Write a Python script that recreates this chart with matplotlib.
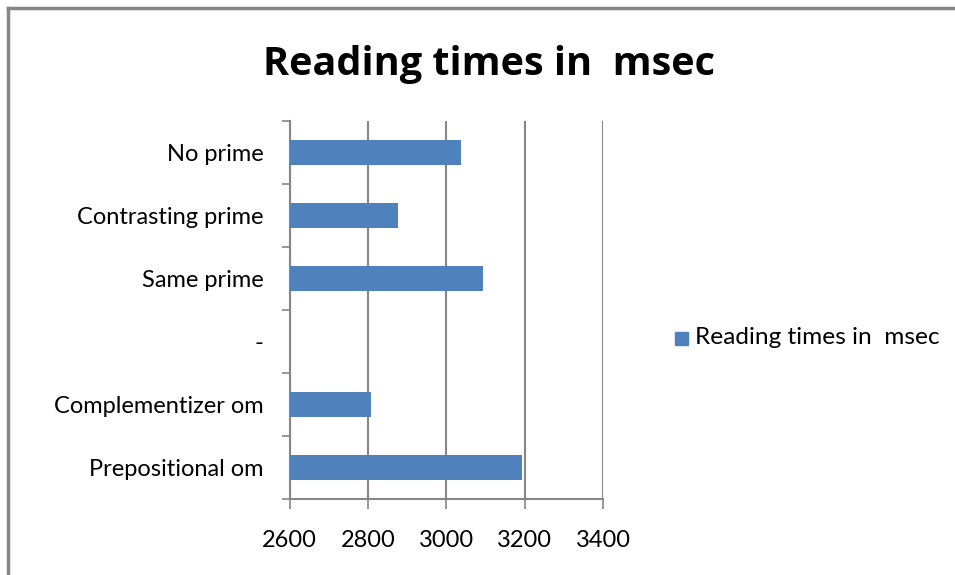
import numpy as np
import matplotlib
matplotlib.use("Agg")
import matplotlib.pyplot as plt
from matplotlib.lines import Line2D
from matplotlib.patches import Rectangle

plt.rcParams['font.family'] = ['Lato', 'DejaVu Sans']

categories = ["No prime", "Contrasting prime", "Same prime", "-",
              "Complementizer om", "Prepositional om"]
reading_ms = [3037, 2876, 3093, np.nan, 2807, 3193]
series_name = "Reading times in  msec"
x_ticks = [2600, 2800, 3000, 3200, 3400]

bar_color = "#4F81BD"
grid_color = "#868686"
label_size = 17

fig = plt.figure(figsize=(9.55, 5.75), dpi=100)
ax = fig.add_axes([0.3033, 0.1317, 0.3284, 0.6579])

y = np.arange(len(categories))
x0 = x_ticks[0]
vals = np.array(reading_ms, dtype=float)
ax.barh(y, np.nan_to_num(vals - x0, nan=0.0), left=x0, height=0.4,
        color=bar_color, zorder=3, label=series_name)

ax.set_xlim(x_ticks[0], x_ticks[-1])
ax.set_ylim(len(categories) - 0.5, -0.5)
ax.set_xticks(x_ticks)
ax.set_xticklabels([str(t) for t in x_ticks], fontsize=label_size)
ax.set_yticks(y)
ax.set_yticklabels(categories, fontsize=label_size)
ax.set_yticks(np.arange(len(categories) + 1) - 0.5, minor=True)

ax.tick_params(axis='y', which='major', length=0, pad=19)
ax.tick_params(axis='y', which='minor', length=6, width=1.2, color=grid_color, direction='out')
ax.tick_params(axis='x', which='major', length=7, width=1.2, color=grid_color, pad=15)

ax.grid(axis='x', color=grid_color, linewidth=1.5, zorder=1)
for side in ('top', 'right'):
    ax.spines[side].set_visible(False)
for side in ('left', 'bottom'):
    ax.spines[side].set_color(grid_color)
    ax.spines[side].set_linewidth(1.5)

fig.text(0.512, 1 - 75 / 575, series_name, ha='center', va='baseline',
         fontsize=28.5, fontweight='bold', family=['Open Sans', 'DejaVu Sans'])

# Legend entry
fig.patches.append(Rectangle((675 / 955, 1 - 345 / 575), 13 / 955, 13 / 575,
                             transform=fig.transFigure, color=bar_color))
fig.text(695 / 955, 1 - 338 / 575, series_name, ha='left', va='center',
         fontsize=17.6)

# Chart-area frame (top and left edges)
fig.lines.append(Line2D([8 / 955, 1], [1 - 8 / 575] * 2, transform=fig.transFigure,
                        color=grid_color, linewidth=2.5))
fig.lines.append(Line2D([8 / 955] * 2, [0, 1 - 8 / 575], transform=fig.transFigure,
                        color=grid_color, linewidth=2.5))

fig.savefig("out.png", dpi=100)
